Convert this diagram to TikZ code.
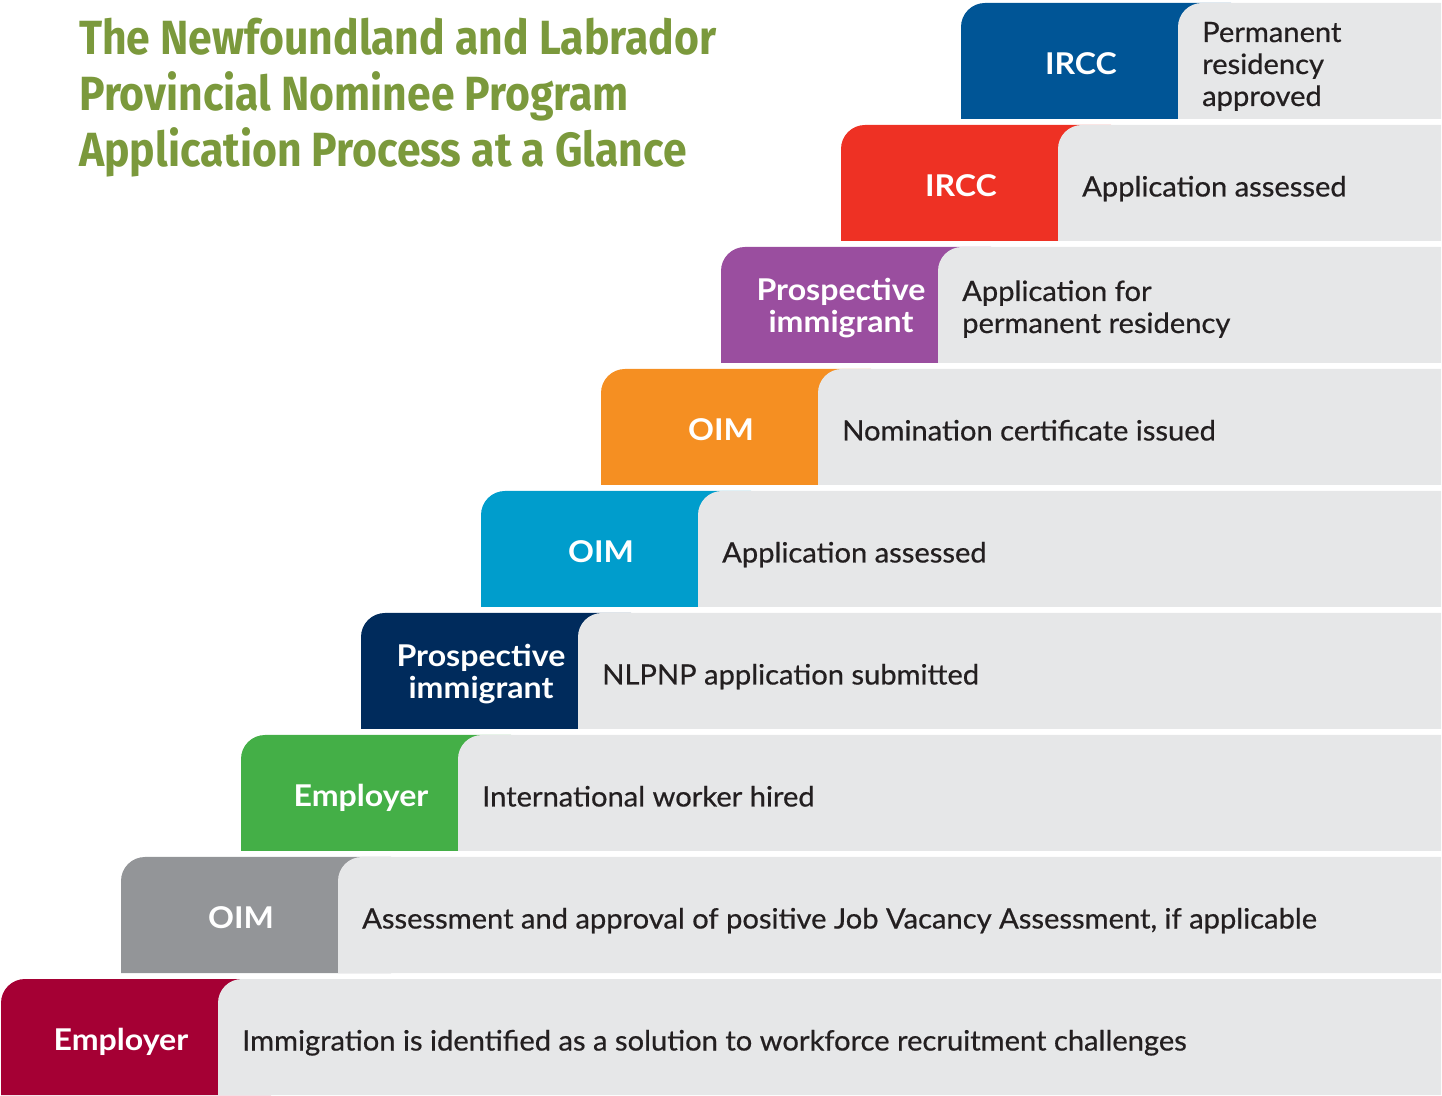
\documentclass[tikz,border=0pt]{standalone}
\usepackage{fontspec}
\setmainfont{Lato}
\newfontfamily\titlefont[FakeStretch=0.89]{Fira Sans}
\newfontfamily\whofont[FakeStretch=1.07]{Lato}
\newfontfamily\whatfont[FakeStretch=1.04,FakeBold=0.6]{Lato}
\definecolor{cMaroon}{HTML}{A50034}
\definecolor{cGrey}{HTML}{939598}
\definecolor{cGreen}{HTML}{44AF47}
\definecolor{cNavy}{HTML}{002B5C}
\definecolor{cCyan}{HTML}{009DCC}
\definecolor{cOrange}{HTML}{F58F22}
\definecolor{cPurple}{HTML}{9A4E9F}
\definecolor{cRed}{HTML}{EE3124}
\definecolor{cBlue}{HTML}{005596}
\definecolor{cBand}{HTML}{E6E7E8}
\definecolor{cText}{HTML}{231F20}
\definecolor{cTitle}{HTML}{7B993C}
\newcommand\stepbg[2]{%
  \pgfmathsetmacro\xl{1+120*#1}%
  \pgfmathsetmacro\yb{122*#1}%
  \fill[#2] (\xl,\yb) -- (\xl,\yb+92) arc[start angle=180,end angle=90,radius=24] -- (\xl+270,\yb+116) -- (\xl+270,\yb) -- cycle;
  \fill[cBand] (\xl+217,\yb) -- (\xl+217,\yb+92) arc[start angle=180,end angle=90,radius=24] -- (1441,\yb+116) -- (1441,\yb) -- cycle;
}
\tikzset{
  who/.style={text=white, inner sep=0pt, align=center, font=\whofont\bfseries\fontsize{30}{32}\selectfont},
  what/.style={text=cText, inner sep=0pt, align=left, font=\whatfont\fontsize{28}{32}\selectfont},
}
\begin{document}
\begin{tikzpicture}[x=1pt,y=1pt]
\useasboundingbox (0,0) rectangle (1442,1095);
\foreach \i/\c in {0/cMaroon,1/cGrey,2/cGreen,3/cNavy,4/cCyan,5/cOrange,6/cPurple,7/cRed,8/cBlue}{\stepbg{\i}{\c}}
% step 0
\node[who, anchor=base] (w0) at (121,44.5) {Employer};
\node[what, anchor=base west] (t0) at (242,44.5) {Immigration is identified as a solution to workforce recruitment challenges};
% step 1
\node[who, anchor=base] (w1) at (241,166.5) {OIM};
\node[what, anchor=base west] (t1) at (362,166.5) {Assessment and approval of positive Job Vacancy Assessment, if applicable};
% step 2
\node[who, anchor=base] (w2) at (361,288.5) {Employer};
\node[what, anchor=base west] (t2) at (482,288.5) {International worker hired};
% step 3
\node[who, anchor=base] (w3) at (481,396) {Prospective\\immigrant};
\node[what, anchor=base west] (t3) at (602,410.5) {NLPNP application submitted};
% step 4
\node[who, anchor=base] (w4) at (601,532.5) {OIM};
\node[what, anchor=base west] (t4) at (722,532.5) {Application assessed};
% step 5
\node[who, anchor=base] (w5) at (721,654.5) {OIM};
\node[what, anchor=base west] (t5) at (842,654.5) {Nomination certificate issued};
% step 6
\node[who, anchor=base] (w6) at (841,762) {Prospective\\immigrant};
\node[what, anchor=base west] (t6) at (962,762) {Application for\\permanent residency};
% step 7
\node[who, anchor=base] (w7) at (961,898.5) {IRCC};
\node[what, anchor=base west] (t7) at (1082,898.5) {Application assessed};
% step 8
\node[who, anchor=base] (w8) at (1081,1020.5) {IRCC};
\node[what, anchor=base west] (t8) at (1202,989) {Permanent\\residency\\approved};
% title
\node[anchor=north west, inner sep=0pt, align=left, text=cTitle,
      font=\titlefont\bfseries\fontsize{48}{56}\selectfont] (title) at (79,1077)
  {The Newfoundland and Labrador\\Provincial Nominee Program\\Application Process at a Glance};
\end{tikzpicture}
\end{document}
